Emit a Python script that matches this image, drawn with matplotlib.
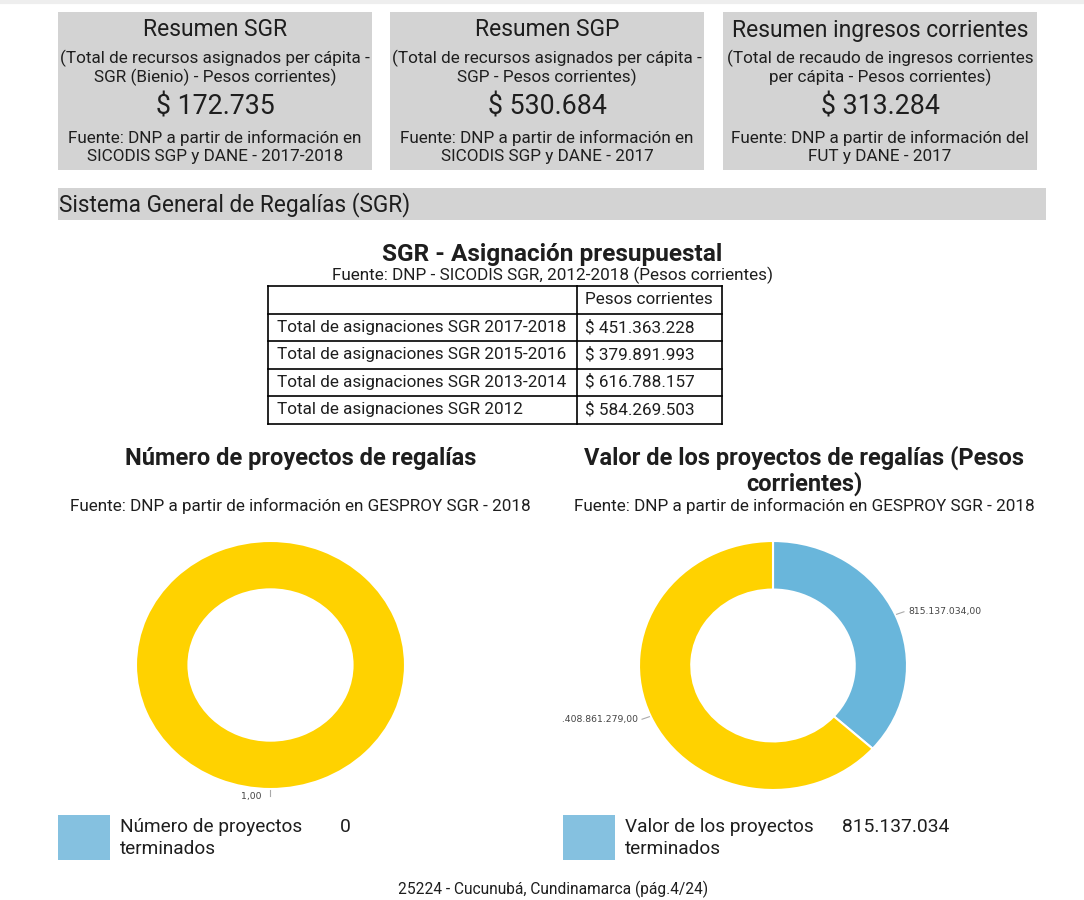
import numpy as np
import matplotlib
matplotlib.use('Agg')
import matplotlib.pyplot as plt
from matplotlib.patches import Rectangle
from matplotlib.transforms import Bbox, TransformedBbox

plt.rcParams['font.family'] = ['Roboto', 'DejaVu Sans']

# --- data ---
box_titles = ['Resumen SGR', 'Resumen SGP', 'Resumen ingresos corrientes']
box_subtitles = ['(Total de recursos asignados per cápita -\nSGR (Bienio) - Pesos corrientes)',
                 '(Total de recursos asignados per cápita -\nSGP - Pesos corrientes)',
                 '(Total de recaudo de ingresos corrientes\nper cápita - Pesos corrientes)']
box_values = ['$ 172.735', '$ 530.684', '$ 313.284']
box_sources = ['Fuente: DNP a partir de información en\nSICODIS SGP y DANE - 2017-2018',
               'Fuente: DNP a partir de información en\nSICODIS SGP y DANE - 2017',
               'Fuente: DNP a partir de información del\nFUT y DANE - 2017']

table_header = ['', 'Pesos corrientes']
table_rows = ['Total de asignaciones SGR 2017-2018',
              'Total de asignaciones SGR 2015-2016',
              'Total de asignaciones SGR 2013-2014',
              'Total de asignaciones SGR 2012']
table_values = ['$ 451.363.228', '$ 379.891.993', '$ 616.788.157', '$ 584.269.503']

num_proyectos = [1.0]
num_colors = ['#FFD200']
valor_proyectos = [815137034.0, 1408861279.0]
valor_colors = ['#69B6DB', '#FFD200']

legend_labels = ['Número de proyectos\nterminados', 'Valor de los proyectos\nterminados']
legend_values = ['0', '815.137.034']

fig = plt.figure(figsize=(10.84, 9), dpi=100)
bg = fig.add_axes([0, 0, 1, 1])
bg.set_xlim(0, 1084)
bg.set_ylim(900, 0)
bg.axis('off')

TXT = '#1e1e1e'
GRAY = '#d3d3d3'

bg.plot([0, 1084], [2, 2], color='#eeeeee', lw=3)

# summary boxes
box_x = [58, 390, 723]
box_w = 314
for i in range(3):
    x0 = box_x[i]
    bg.add_patch(Rectangle((x0, 12), box_w, 158, color=GRAY, lw=0))
    cx = x0 + box_w / 2
    bg.text(cx, 30, box_titles[i], ha='center', va='center', fontsize=16.5, color=TXT)
    bg.text(cx, 68, box_subtitles[i], ha='center', va='center', fontsize=12.3,
            color=TXT, linespacing=1.18)
    bg.text(cx, 107, box_values[i], ha='center', va='center', fontsize=19.3, color=TXT)
    bg.text(cx, 147, box_sources[i], ha='center', va='center', fontsize=12.3,
            color=TXT, linespacing=1.18)

# section bar
bg.add_patch(Rectangle((58, 188), 988, 32, color=GRAY, lw=0))
bg.text(59, 205, 'Sistema General de Regalías (SGR)', ha='left', va='center',
        fontsize=16.3, color=TXT)

# table
bg.text(552, 254, 'SGR - Asignación presupuestal', ha='center', va='center',
        fontsize=17.6, fontweight='bold', color=TXT)
bg.text(553, 275, 'Fuente: DNP - SICODIS SGR, 2012-2018 (Pesos corrientes)', ha='center',
        va='center', fontsize=12.3, color=TXT)
tx0, tx1, tx2 = 268, 577, 722
ty0, row_h = 286, 27.5
n_lines = len(table_rows) + 2
for k in range(n_lines):
    y = ty0 + k * row_h
    bg.plot([tx0, tx2], [y, y], color='black', lw=1.2)
yb = ty0 + (n_lines - 1) * row_h
for x in (tx0, tx1, tx2):
    bg.plot([x, x], [ty0, yb], color='black', lw=1.2)
bg.text(tx1 + 8, ty0 + row_h / 2, table_header[1], ha='left', va='center',
        fontsize=12.3, color=TXT)
for k, (lab, val) in enumerate(zip(table_rows, table_values)):
    y = ty0 + (k + 1.5) * row_h
    bg.text(tx0 + 9, y, lab, ha='left', va='center', fontsize=12.3, color=TXT)
    bg.text(tx1 + 8, y, val, ha='left', va='center', fontsize=12.3, color=TXT)

# donut titles
bg.text(301, 458, 'Número de proyectos de regalías', ha='center', va='center',
        fontsize=17, fontweight='bold', color=TXT)
bg.text(804, 471, 'Valor de los proyectos de regalías (Pesos\ncorrientes)', ha='center',
        va='center', fontsize=17, fontweight='bold', color=TXT, linespacing=1.1)
bg.text(300, 506, 'Fuente: DNP a partir de información en GESPROY SGR - 2018',
        ha='center', va='center', fontsize=12.3, color=TXT)
bg.text(804, 506, 'Fuente: DNP a partir de información en GESPROY SGR - 2018',
        ha='center', va='center', fontsize=12.3, color=TXT)


def fmt(v):
    s = f'{v:,.2f}'
    return s.replace(',', '#').replace('.', ',').replace('#', '.')


def donut(x0, x1, y0, y1, vals, cols, clip_left=None):
    ax = fig.add_axes([x0 / 1084, (900 - y1) / 900, (x1 - x0) / 1084, (y1 - y0) / 900])
    wedges, _ = ax.pie(vals, colors=cols, startangle=90, counterclock=False,
                       radius=1, wedgeprops=dict(width=0.39, edgecolor='white', lw=1.5))
    ax.set_aspect('auto')
    ax.set_xlim(-1, 1)
    ax.set_ylim(-1, 1)
    ax.axis('off')
    for w, v in zip(wedges, vals):
        ang = np.deg2rad((w.theta1 + w.theta2) / 2)
        c, s = np.cos(ang), np.sin(ang)
        ax.plot([1.01 * c, 1.07 * c], [1.01 * s, 1.06 * s], color='#aaaaaa', lw=0.8,
                clip_on=False)
        right = c > 1e-6
        tx = 1.07 * c + (0.03 if right else -0.03)
        if abs(c) < 1e-6:
            tx = -0.07
        t = ax.text(tx, 1.06 * s, fmt(v), ha='left' if right else 'right', va='center',
                    fontsize=6.7, color='#444444', family='DejaVu Sans', clip_on=False)
        if clip_left is not None:
            t.set_clip_box(TransformedBbox(Bbox.from_extents(clip_left, 0, 1084, 900),
                                           bg.transData))
            t.set_clip_on(True)
    return ax


donut(136, 405, 541, 789, num_proyectos, num_colors)
donut(639, 907, 541, 790, valor_proyectos, valor_colors, clip_left=561)

# legends
for lx, lab, val, vx in zip([58, 563], legend_labels, legend_values, [340, 842]):
    bg.add_patch(Rectangle((lx, 815), 52, 45, color='#85C1E0', lw=0))
    bg.text(lx + 62, 838, lab, ha='left', va='center', fontsize=13.7, color=TXT,
            linespacing=1.3)
    bg.text(vx, 827, val, ha='left', va='center', fontsize=13.9, color=TXT)

bg.text(553, 889, '25224 - Cucunubá, Cundinamarca (pág.4/24)', ha='center', va='center',
        fontsize=11.2, color=TXT)

plt.savefig('out.png', dpi=100)
